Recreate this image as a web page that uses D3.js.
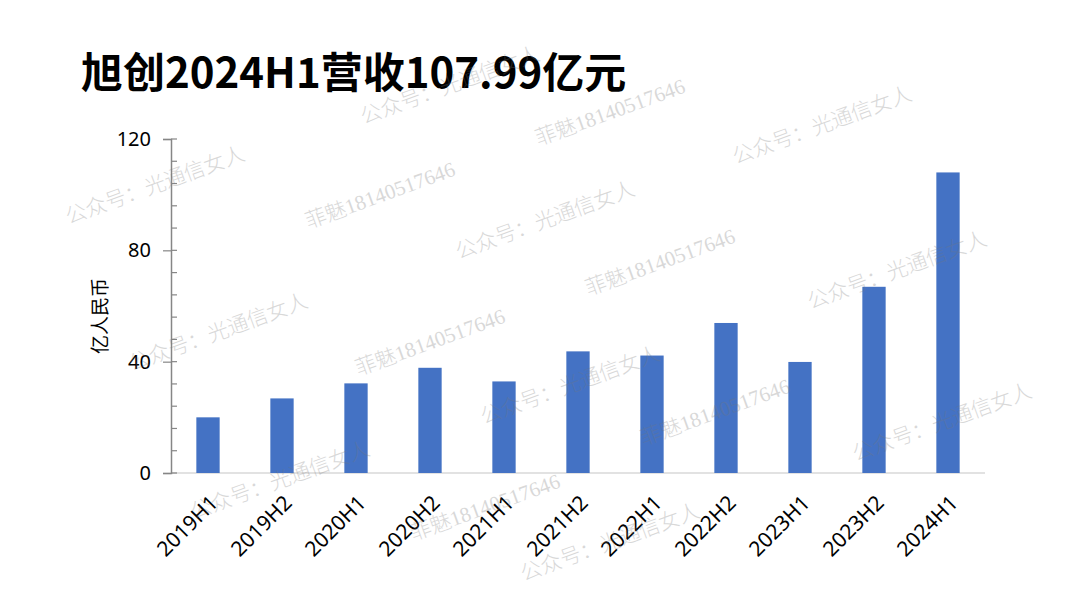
<!DOCTYPE html>
<html>
<head>
<meta charset="utf-8">
<script src="https://cdn.jsdelivr.net/npm/d3@7"></script>
<style>
  html, body { margin: 0; padding: 0; background: #fff; }
  svg { display: block; }
</style>
</head>
<body>
<svg id="chart" width="1080" height="608"></svg>
<script>
// Revenue per half year, 亿人民币
const periods = ['2019H1', '2019H2', '2020H1', '2020H2', '2021H1', '2021H2',
                 '2022H1', '2022H2', '2023H1', '2023H2', '2024H1'];
const revenue = [20.0, 26.8, 32.2, 37.8, 32.9, 43.7, 42.2, 53.9, 39.9, 66.9, 107.99];
const yTicks = [0, 40, 80, 120];
const yMinorStep = 8;

const titleText = '旭创2024H1营收107.99亿元';
const yLabel = '亿人民币';
const watermarkTexts = ['公众号：光通信女人', '菲魅18140517646'];

const svg = d3.select('#chart');
const margin = { left: 171, right: 95, top: 139, bottom: 135 };
const W = 1080, H = 608;

const x = d3.scaleBand()
    .domain(periods)
    .range([margin.left, W - margin.right])
    .paddingInner(0.685)
    .paddingOuter(0.3425);

const y = d3.scaleLinear()
    .domain([0, 120])
    .range([H - margin.bottom, margin.top]);

const font = '"Noto Sans", "Noto Sans CJK SC", sans-serif';

// Title
svg.append('text')
    .attr('x', 81)
    .attr('y', 88)
    .style('font-family', '"Noto Sans CJK SC", "Noto Sans", sans-serif')
    .style('font-weight', 700)
    .style('font-size', '42px')
    .style('fill', '#000')
    .text(titleText);

// Baseline
svg.append('line')
    .attr('x1', margin.left).attr('x2', W - margin.right)
    .attr('y1', y(0)).attr('y2', y(0))
    .style('stroke', '#d9d9d9')
    .style('stroke-width', 1.5);

// Bars
svg.append('g').selectAll('rect')
    .data(revenue)
    .join('rect')
    .attr('x', (d, i) => x(periods[i]))
    .attr('width', x.bandwidth())
    .attr('y', d => y(d))
    .attr('height', d => y(0) - y(d))
    .style('fill', '#4472c4');

// Y axis (labels + left half of major ticks)
const yAxis = svg.append('g')
    .attr('transform', `translate(${margin.left},0)`)
    .call(d3.axisLeft(y).tickValues(yTicks).tickSize(8).tickPadding(12));
yAxis.select('.domain').style('stroke', '#868686').style('stroke-width', 1.5);
yAxis.selectAll('.tick line').style('stroke', '#868686').style('stroke-width', 1.2);
yAxis.selectAll('.tick text')
    .style('font-family', font)
    .style('font-size', '20px')
    .style('fill', '#000');

// right half of major ticks + minor ticks
svg.append('g').selectAll('line')
    .data(d3.range(0, 120 + 1, yMinorStep))
    .join('line')
    .attr('x1', margin.left).attr('x2', margin.left + 6)
    .attr('y1', d => y(d)).attr('y2', d => y(d))
    .style('stroke', '#868686')
    .style('stroke-width', 1.2);

// X labels
svg.append('g').selectAll('text')
    .data(periods)
    .join('text')
    .attr('transform', d => `translate(${x(d) + x.bandwidth() / 2 + 6},${y(0) + 26}) rotate(-45)`)
    .attr('text-anchor', 'end')
    .attr('dy', '0.35em')
    .style('font-family', font)
    .style('font-size', '21px')
    .style('fill', '#000')
    .text(d => d);

// Y axis title
svg.append('text')
    .attr('transform', 'translate(100,316) rotate(-90)')
    .attr('text-anchor', 'middle')
    .attr('dy', '0.35em')
    .style('font-family', '"Noto Sans CJK SC", sans-serif')
    .style('font-size', '19px')
    .style('fill', '#000')
    .text(yLabel);

// Watermark layer (tiled, rotated)
const marks = [
    [155, 185, 0], [450, 85, 0], [610, 112, 1], [822, 125, 0],
    [380, 195, 1], [545, 220, 0], [660, 262, 1], [897, 270, 0],
    [218, 332, 0], [430, 342, 1], [570, 385, 0], [715, 412, 1],
    [942, 422, 0], [280, 480, 0], [485, 507, 1], [610, 542, 0]
];
svg.append('g')
    .style('pointer-events', 'none')
    .selectAll('text')
    .data(marks)
    .join('text')
    .attr('transform', d => `translate(${d[0]},${d[1]}) rotate(-20)`)
    .attr('text-anchor', 'middle')
    .attr('dy', '0.35em')
    .style('font-family', '"Liberation Serif", "Noto Sans CJK SC", serif')
    .style('font-weight', 300)
    .style('font-size', '21px')
    .style('fill', '#777')
    .style('opacity', 0.28)
    .text(d => watermarkTexts[d[2]]);
</script>
</body>
</html>
